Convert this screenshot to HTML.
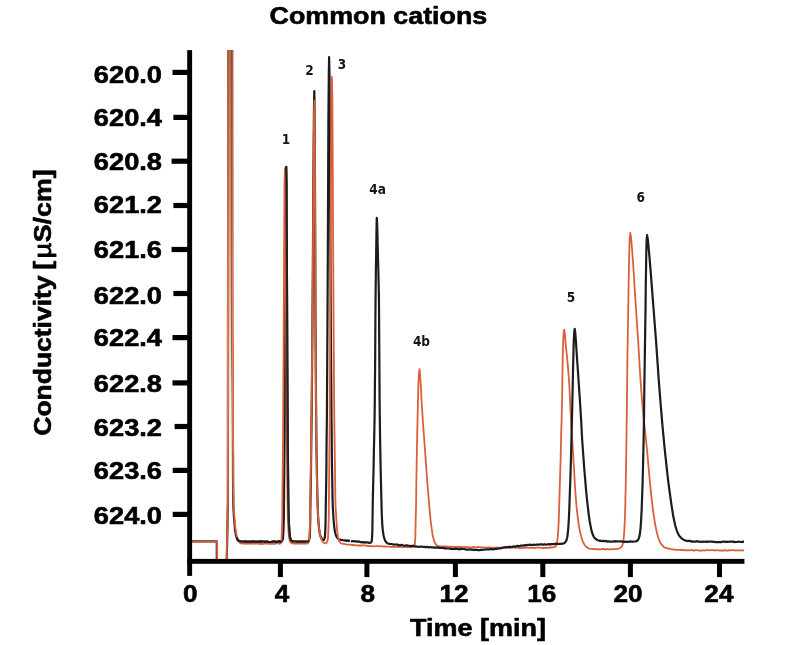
<!DOCTYPE html>
<html lang="en"><head><meta charset="utf-8"><title>Common cations</title>
<style>
html,body{margin:0;padding:0;background:#fff;}
body{width:790px;height:645px;overflow:hidden;}
svg{display:block;}
.ax{font-family:"Liberation Sans",Arial,sans-serif;font-weight:700;font-size:24px;fill:#000;stroke:#000;stroke-width:0.6px;stroke-linejoin:round;}
.pk{font-family:"DejaVu Sans Condensed","DejaVu Sans","Liberation Sans",sans-serif;font-weight:700;font-size:13.5px;fill:#161616;}
</style></head><body>
<svg width="790" height="645" viewBox="0 0 790 645">
<rect width="790" height="645" fill="#fff"/>
<defs><clipPath id="plot"><rect x="192" y="50" width="552.3" height="509.5"/></clipPath></defs>
<text class="ax" transform="translate(378.4,24.0) scale(1.119,1)" text-anchor="middle">Common cations</text>
<text class="ax" transform="translate(478.0,636.0) scale(1.124,1)" text-anchor="middle">Time [min]</text>
<text class="ax" transform="translate(51.3,435.7) rotate(-90) scale(1.103,1)" text-anchor="start">Conductivity</text>
<text class="ax" transform="translate(51.3,169.4) rotate(-90) scale(1.115,1)" text-anchor="end">[<tspan dx="2.2" style="font-weight:400;stroke-width:0.9px">µ</tspan><tspan dx="0.6">S/cm]</tspan></text>
<text class="ax" transform="translate(162.0,83.1) scale(1.135,1)" text-anchor="end">620.0</text>
<text class="ax" transform="translate(162.0,125.7) scale(1.135,1)" text-anchor="end">620.4</text>
<text class="ax" transform="translate(162.0,170.1) scale(1.135,1)" text-anchor="end">620.8</text>
<text class="ax" transform="translate(162.0,213.2) scale(1.135,1)" text-anchor="end">621.2</text>
<text class="ax" transform="translate(162.0,258.2) scale(1.135,1)" text-anchor="end">621.6</text>
<text class="ax" transform="translate(162.0,303.7) scale(1.135,1)" text-anchor="end">622.0</text>
<text class="ax" transform="translate(162.0,345.7) scale(1.135,1)" text-anchor="end">622.4</text>
<text class="ax" transform="translate(162.0,391.5) scale(1.135,1)" text-anchor="end">622.8</text>
<text class="ax" transform="translate(162.0,435.6) scale(1.135,1)" text-anchor="end">623.2</text>
<text class="ax" transform="translate(162.0,478.9) scale(1.135,1)" text-anchor="end">623.6</text>
<text class="ax" transform="translate(162.0,523.5) scale(1.135,1)" text-anchor="end">624.0</text>
<text class="ax" transform="translate(190.2,601.8) scale(1.09,1)" text-anchor="middle">0</text>
<text class="ax" transform="translate(282.1,601.8) scale(1.09,1)" text-anchor="middle">4</text>
<text class="ax" transform="translate(367.8,601.8) scale(1.09,1)" text-anchor="middle">8</text>
<text class="ax" transform="translate(454.1,601.8) scale(1.09,1)" text-anchor="middle">12</text>
<text class="ax" transform="translate(541.7,601.8) scale(1.09,1)" text-anchor="middle">16</text>
<text class="ax" transform="translate(628.0,601.8) scale(1.09,1)" text-anchor="middle">20</text>
<text class="ax" transform="translate(718.9,601.8) scale(1.09,1)" text-anchor="middle">24</text>
<g clip-path="url(#plot)" fill="none" stroke-linejoin="round" stroke-linecap="butt">
<g stroke="#1c1c20" stroke-width="2.2">
<path d="M192,541.3 L216.8,541.3 L216.8,562"/>
<path d="M226.7,562 L227.4,530 L227.9,500 L228.2,40"/>
<path d="M231.6,40.0 L231.6,83.3 L231.6,126.7 L231.7,170.0 L231.7,213.3 L231.8,256.7 L231.9,300.0 L232.0,320.0 L232.1,340.0 L232.3,360.0 L232.5,380.0 L232.7,400.0 L232.8,420.0 L232.9,433.3 L232.9,446.7 L233.0,460.0 L233.0,473.3 L233.1,486.7 L233.2,500.0 L233.3,504.2 L233.4,508.3 L233.7,512.5 L233.9,516.7 L234.3,520.8 L234.6,525.0 L234.8,526.7 L234.9,528.5 L235.1,530.3 L235.4,532.0 L235.7,533.7 L236.0,535.4 L236.2,536.4 L236.6,537.4 L237.0,538.4 L237.4,539.3 L237.9,540.1 L238.5,540.6 L238.9,540.8 L239.5,541.0 L240.1,541.2 L240.7,541.4 L241.4,541.5 L242.0,541.5 L243.1,541.5 L244.2,541.9 L245.3,541.3 L246.4,541.9 L247.5,541.5 L248.6,541.6 L249.7,541.9 L250.8,541.6 L252.0,541.7 L253.1,541.3 L254.2,541.9 L255.3,541.7 L256.4,541.6 L257.5,541.9 L258.7,541.5 L259.8,541.7 L260.9,541.4 L262.0,541.6 L263.1,541.5 L264.3,541.5 L265.4,541.9 L266.6,541.5 L267.8,541.7 L269.0,542.1 L270.2,542.0 L271.4,541.9 L272.6,541.7 L273.8,541.5 L274.9,541.4 L276.0,542.0 L277.5,541.7 L279.0,541.3 L280.1,541.7 L281.2,541.8 L281.6,541.4 L282.0,540.9 L282.4,540.3 L282.7,539.5 L282.9,538.7 L283.0,538.0 L283.4,532.0 L283.6,525.7 L283.8,519.3 L283.9,512.9 L283.9,506.4 L284.0,500.0 L284.6,436.8 L285.0,364.3 L285.4,291.8 L285.6,228.5 L285.9,183.8 L286.2,166.8 L286.5,183.8 L286.7,228.5 L287.0,291.8 L287.3,364.3 L287.7,436.8 L288.3,500.0 L288.4,505.0 L288.5,510.0 L288.6,515.0 L288.8,520.0 L289.0,525.0 L289.3,530.0 L289.4,531.8 L289.6,533.8 L289.8,535.8 L290.1,537.6 L290.5,539.2 L291.0,540.3 L291.3,540.6 L291.7,540.8 L292.2,541.1 L292.8,541.3 L293.4,541.4 L294.0,541.5 L295.3,541.5 L296.6,541.6 L298.0,541.6 L299.3,541.6 L300.7,541.6 L302.0,541.6 L303.1,541.6 L304.3,541.6 L305.5,541.6 L306.6,541.5 L307.5,541.5 L308.2,541.4 L308.6,541.1 L308.9,540.5 L309.2,539.7 L309.4,538.8 L309.6,537.8 L309.7,537.0 L310.0,531.0 L310.1,524.9 L310.3,518.7 L310.3,512.4 L310.4,506.2 L310.5,500.0 L310.8,483.3 L311.0,466.7 L311.2,450.0 L311.4,433.3 L311.6,416.7 L311.8,400.0 L312.3,341.3 L312.8,274.1 L313.2,206.9 L313.6,148.2 L314.0,106.7 L314.3,91.0 L314.6,106.7 L314.8,148.2 L315.1,206.9 L315.3,274.1 L315.6,341.3 L316.0,400.0 L316.2,416.7 L316.3,433.3 L316.5,450.0 L316.8,466.7 L317.1,483.3 L317.5,500.0 L317.6,504.2 L317.8,508.3 L317.9,512.5 L318.1,516.7 L318.4,520.9 L318.7,525.0 L318.9,527.0 L319.1,528.9 L319.4,530.9 L319.7,532.9 L320.1,534.7 L320.6,536.5 L320.9,537.2 L321.4,538.1 L321.9,538.9 L322.5,539.5 L323.0,540.0 L323.4,540.2 L323.7,540.0 L324.1,539.4 L324.4,538.6 L324.7,537.7 L324.9,536.8 L325.0,536.0 L325.3,530.2 L325.5,524.2 L325.6,518.2 L325.7,512.1 L325.8,506.0 L325.9,500.0 L326.2,483.3 L326.4,466.7 L326.5,450.0 L326.7,433.3 L326.9,416.7 L327.0,400.0 L327.4,334.9 L327.8,260.3 L328.1,185.6 L328.4,120.5 L328.8,74.5 L329.1,57.0 L329.5,74.5 L329.8,120.5 L330.1,185.6 L330.5,260.3 L330.9,334.9 L331.4,400.0 L331.5,416.7 L331.7,433.3 L331.8,450.0 L332.0,466.7 L332.3,483.3 L332.6,500.0 L332.7,503.3 L332.8,506.7 L333.0,510.0 L333.2,513.3 L333.4,516.7 L333.6,520.0 L333.8,522.4 L334.0,524.8 L334.3,527.2 L334.6,529.5 L335.0,531.8 L335.5,534.0 L335.8,535.0 L336.3,536.1 L336.9,537.2 L337.5,538.2 L338.3,538.9 L339.0,539.4 L339.8,539.6 L340.7,539.9 L341.8,540.0 L342.9,540.2 L344.0,540.3 L345.0,540.4 L345.8,540.6 L346.7,540.9 L347.5,540.3 L348.3,540.8 L349.2,540.8 L350.0,540.6"/>
</g>
<g stroke="#d9603a" stroke-width="1.8">
<path d="M192,541.6 L217.2,541.6 L217.2,562"/>
<path d="M226.6,562 L227.3,530 L227.8,500 L228.0,40"/>
<path d="M232.6,40.0 L232.6,83.3 L232.6,126.7 L232.7,170.0 L232.7,213.3 L232.7,256.7 L232.8,300.0 L232.8,320.0 L232.9,340.0 L232.9,360.0 L233.0,380.0 L233.0,400.0 L233.1,420.0 L233.1,433.3 L233.2,446.7 L233.3,460.0 L233.3,473.3 L233.4,486.7 L233.6,500.0 L233.7,504.2 L233.9,508.3 L234.1,512.5 L234.4,516.7 L234.7,520.9 L235.1,525.0 L235.3,526.8 L235.5,528.7 L235.8,530.5 L236.1,532.4 L236.4,534.2 L236.8,536.0 L237.1,537.2 L237.4,538.4 L237.8,539.6 L238.2,540.8 L238.7,541.7 L239.3,542.4 L239.7,542.7 L240.2,542.9 L240.7,543.1 L241.3,543.3 L241.9,543.4 L242.5,543.5 L244.1,543.4 L245.7,543.5 L246.7,543.8 L247.8,543.4 L248.9,543.7 L250.0,543.8 L251.1,543.5 L252.2,543.4 L253.3,543.5 L254.4,543.8 L255.5,543.7 L256.5,543.5 L257.6,543.7 L258.7,543.8 L259.8,543.7 L260.9,543.8 L262.0,544.0 L263.1,543.8 L264.2,543.6 L265.3,543.5 L266.5,543.6 L267.7,543.7 L268.8,543.9 L270.0,543.8 L271.2,543.6 L272.4,543.9 L273.5,543.6 L274.6,543.8 L275.7,543.4 L277.0,543.4 L278.4,543.4 L279.3,543.8 L280.2,543.6 L280.5,543.3 L280.8,542.7 L281.0,542.0 L281.3,541.1 L281.4,540.3 L281.5,539.5 L281.8,533.1 L282.0,526.5 L282.2,519.9 L282.3,513.3 L282.3,506.6 L282.4,500.0 L283.0,437.0 L283.5,364.8 L283.9,292.6 L284.2,229.6 L284.5,185.1 L284.9,168.2 L285.1,177.5 L285.4,201.9 L285.6,236.4 L285.8,275.9 L286.1,315.5 L286.3,350.0 L286.5,375.0 L286.6,400.0 L286.8,425.0 L287.0,450.0 L287.2,475.0 L287.5,500.0 L287.6,505.0 L287.7,510.0 L287.8,515.0 L288.0,520.0 L288.2,525.0 L288.4,530.0 L288.5,532.1 L288.7,534.2 L288.9,536.4 L289.3,538.5 L289.7,540.3 L290.2,541.8 L290.5,542.2 L290.8,542.5 L291.3,542.9 L291.9,543.2 L292.5,543.4 L293.0,543.5 L294.4,543.5 L295.9,543.6 L297.4,543.6 L298.9,543.6 L300.5,543.6 L302.0,543.6 L303.0,543.6 L304.1,543.6 L305.2,543.5 L306.2,543.5 L307.1,543.5 L307.7,543.4 L308.1,543.1 L308.5,542.4 L308.8,541.5 L309.0,540.5 L309.2,539.4 L309.3,538.5 L309.6,532.2 L309.9,525.8 L310.0,519.4 L310.1,512.9 L310.2,506.4 L310.3,500.0 L310.6,483.3 L310.9,466.7 L311.1,450.0 L311.3,433.3 L311.5,416.7 L311.7,400.0 L312.2,343.2 L312.8,278.1 L313.2,212.9 L313.7,156.1 L314.0,115.9 L314.4,100.7 L314.7,115.9 L314.9,156.1 L315.1,212.9 L315.4,278.1 L315.6,343.2 L316.0,400.0 L316.1,416.7 L316.3,433.3 L316.5,450.0 L316.7,466.7 L317.0,483.3 L317.4,500.0 L317.5,504.2 L317.7,508.3 L317.9,512.5 L318.1,516.7 L318.4,520.9 L318.7,525.0 L318.9,527.2 L319.2,529.4 L319.5,531.6 L319.9,533.8 L320.4,535.9 L321.0,538.0 L321.3,538.8 L321.6,539.7 L322.0,540.6 L322.5,541.4 L323.0,542.1 L323.6,542.6 L323.9,542.8 L324.2,543.0 L324.6,543.1 L325.0,543.3 L325.3,543.4 L325.6,543.4 L326.2,543.1 L326.7,542.4 L327.2,541.4 L327.6,540.2 L327.9,539.0 L328.0,538.0 L328.3,531.9 L328.5,525.6 L328.7,519.3 L328.8,512.8 L328.8,506.4 L328.9,500.0 L329.7,419.7 L330.2,327.6 L330.7,235.6 L331.0,155.3 L331.4,98.4 L331.9,76.9 L332.4,98.5 L332.7,155.3 L333.1,235.6 L333.6,327.7 L334.3,419.7 L335.4,500.0 L335.5,503.3 L335.6,506.7 L335.8,510.0 L336.0,513.3 L336.2,516.7 L336.4,520.0 L336.6,522.9 L336.8,525.7 L337.0,528.6 L337.2,531.5 L337.6,534.3 L338.0,537.0 L338.3,538.2 L338.6,539.4 L339.1,540.6 L339.6,541.7 L340.2,542.6 L340.9,543.2 L341.5,543.5 L342.3,543.7 L343.2,543.9 L344.1,544.0 L345.1,544.2 L346.0,544.3 L347.2,544.6 L348.3,544.6 L349.5,544.6 L350.6,544.8 L351.8,544.9 L353.0,545.2 L354.1,545.0 L355.3,545.3 L356.5,545.3 L357.7,545.5 L358.8,545.3 L360.0,545.5 L361.1,545.4 L362.2,545.5 L363.3,545.4 L364.4,545.4 L365.6,545.5 L366.7,545.9 L367.8,545.8 L368.9,546.2 L370.0,546.2 L371.1,546.0 L372.2,546.4 L373.3,546.2 L374.4,546.3 L375.6,546.2 L376.7,546.1 L377.8,546.1 L378.9,546.2 L380.0,546.5 L381.1,546.2 L382.2,546.2 L383.3,546.7 L384.4,546.3 L385.6,546.5 L386.7,546.6 L387.8,546.7 L388.9,546.6 L390.0,546.9 L391.1,546.8 L392.2,546.8 L393.3,546.8 L394.4,546.8 L395.6,547.1 L396.7,546.7 L397.8,547.0 L398.9,546.9 L400.0,546.6 L401.0,546.8 L402.1,547.2 L403.1,547.2 L404.2,546.7 L405.3,546.9 L406.3,546.8 L407.4,547.3 L408.4,546.9 L409.4,546.9 L410.4,547.5 L411.4,547.2 L412.3,547.1 L412.8,547.1 L413.3,546.9 L413.8,546.6 L414.2,546.2 L414.5,545.9 L414.7,545.5 L415.0,542.2 L415.3,538.2 L415.4,533.8 L415.5,529.1 L415.6,524.4 L415.7,520.0 L416.0,508.3 L416.2,496.7 L416.3,485.0 L416.5,473.3 L416.7,461.7 L416.9,450.0 L417.2,434.7 L417.6,417.1 L418.0,399.5 L418.4,384.2 L418.9,373.3 L419.5,369.2 L419.8,371.3 L420.2,376.8 L420.7,384.5 L421.2,393.4 L421.6,402.3 L422.1,410.0 L422.6,416.7 L423.0,423.3 L423.5,430.0 L424.0,436.7 L424.5,443.3 L425.0,450.0 L425.6,458.3 L426.2,466.7 L426.8,475.0 L427.4,483.3 L428.1,491.7 L428.8,500.0 L429.2,505.0 L429.7,510.0 L430.1,515.1 L430.6,520.1 L431.2,525.0 L431.9,530.0 L432.2,532.2 L432.6,534.6 L433.1,536.9 L433.6,539.1 L434.2,541.2 L435.0,543.0 L435.4,543.7 L436.0,544.4 L436.6,545.1 L437.3,545.8 L438.1,546.2 L438.8,546.4 L440.0,546.2 L441.2,546.5 L442.5,546.5 L443.8,546.7 L445.2,546.4 L446.6,546.5 L448.0,546.6 L449.4,546.8 L450.8,546.7 L452.2,546.9 L453.6,546.7 L455.0,547.1 L456.4,547.2 L457.9,546.7 L459.3,546.8 L460.8,547.0 L462.2,547.2 L463.7,546.8 L465.1,546.9 L466.6,547.1 L468.0,547.2 L469.4,547.4 L470.9,547.4 L472.3,547.4 L473.8,546.9 L475.2,547.5 L476.7,547.3 L478.1,547.0 L479.6,547.1 L481.0,547.4 L482.4,547.3 L483.8,547.3 L485.2,547.6 L486.6,547.6 L487.9,547.5 L489.3,547.6 L490.7,547.4 L492.1,547.8 L493.5,547.6 L494.9,547.8 L496.3,547.3 L497.7,547.8 L499.1,547.7 L500.4,547.8 L501.8,547.5 L503.2,547.7 L504.6,547.6 L506.0,547.5 L507.4,547.4 L508.9,548.0 L510.3,547.8 L511.8,547.6 L513.2,547.6 L514.7,547.7 L516.1,547.9 L517.6,547.5 L519.0,548.1 L520.4,548.0 L521.9,547.6 L523.3,547.9 L524.8,547.7 L526.2,547.9 L527.7,547.5 L529.1,547.8 L530.6,547.9 L532.0,547.9 L533.6,547.9 L535.2,548.0 L536.8,547.6 L538.4,547.6 L539.9,547.7 L541.5,547.8 L543.1,548.0 L544.7,547.8 L546.3,547.8 L547.9,548.0 L549.4,547.5 L551.0,547.5 L551.8,547.5 L552.8,547.4 L553.7,547.2 L554.5,547.0 L555.2,546.8 L555.6,546.5 L556.2,545.4 L556.8,543.8 L557.2,541.7 L557.5,539.4 L557.7,537.1 L557.9,535.0 L558.3,529.2 L558.6,523.4 L558.8,517.5 L559.0,511.7 L559.2,505.8 L559.4,500.0 L559.8,486.7 L560.2,473.3 L560.6,460.0 L560.9,446.7 L561.2,433.3 L561.6,420.0 L562.0,402.8 L562.3,383.2 L562.6,363.5 L563.0,346.3 L563.5,334.2 L564.2,329.6 L564.4,330.6 L564.8,333.4 L565.1,337.2 L565.5,341.7 L565.9,346.1 L566.3,350.0 L566.8,355.0 L567.3,360.0 L567.8,365.0 L568.2,370.0 L568.6,375.0 L569.0,380.0 L569.4,386.7 L569.7,393.3 L570.0,400.0 L570.3,406.7 L570.7,413.3 L571.0,420.0 L571.3,425.8 L571.7,431.7 L572.1,437.5 L572.5,443.3 L572.8,449.2 L573.2,455.0 L573.6,462.5 L574.1,470.0 L574.5,477.5 L574.9,485.0 L575.4,492.5 L576.0,500.0 L576.4,505.0 L576.9,510.1 L577.5,515.1 L578.1,520.1 L578.8,525.1 L579.7,530.0 L580.2,532.6 L580.9,535.3 L581.6,538.0 L582.5,540.6 L583.5,543.0 L584.7,545.0 L585.3,545.7 L586.0,546.5 L586.8,547.2 L587.8,547.9 L588.7,548.4 L589.6,548.6 L591.2,548.8 L592.0,548.8 L592.9,548.8 L593.8,549.1 L594.6,549.3 L595.5,548.9 L596.4,549.1 L597.3,549.3 L598.2,549.2 L599.1,549.4 L600.0,549.3 L601.0,549.4 L602.0,549.0 L603.0,549.0 L604.0,548.9 L605.0,549.4 L606.0,549.5 L607.0,548.9 L608.0,549.4 L609.0,549.3 L610.0,549.4 L611.0,549.1 L612.0,549.3 L612.8,549.2 L613.7,549.2 L614.5,549.1 L615.4,549.1 L616.2,549.1 L617.0,549.0 L617.9,548.8 L618.9,548.5 L619.9,548.1 L620.7,547.6 L621.5,547.1 L621.9,546.5 L622.5,545.1 L622.9,543.3 L623.3,541.3 L623.6,539.2 L623.8,537.0 L624.0,535.0 L624.4,529.2 L624.7,523.4 L624.9,517.5 L625.1,511.7 L625.3,505.8 L625.4,500.0 L626.0,471.7 L626.4,443.3 L626.8,415.0 L627.1,386.7 L627.4,358.3 L627.9,330.0 L628.2,311.6 L628.5,290.4 L628.9,269.3 L629.3,250.9 L629.7,237.8 L630.3,232.9 L631.1,237.8 L632.2,250.9 L633.5,269.3 L634.8,290.4 L636.2,311.6 L637.4,330.0 L638.2,341.7 L638.9,353.3 L639.6,365.0 L640.3,376.7 L641.1,388.3 L642.0,400.0 L642.7,408.3 L643.5,416.7 L644.4,425.0 L645.3,433.3 L646.2,441.7 L647.0,450.0 L647.8,458.3 L648.5,466.7 L649.3,475.0 L650.0,483.4 L650.9,491.7 L651.8,500.0 L652.4,505.0 L653.0,510.1 L653.7,515.1 L654.5,520.1 L655.3,525.1 L656.3,530.0 L656.8,532.2 L657.4,534.5 L658.0,536.8 L658.7,539.0 L659.5,541.1 L660.5,543.0 L661.1,544.0 L661.9,545.0 L662.9,546.0 L663.8,546.9 L664.9,547.5 L665.9,548.0 L666.9,548.1 L668.0,548.3 L669.1,548.9 L670.3,548.7 L671.5,549.3 L672.7,549.3 L673.9,549.5 L675.1,549.9 L676.4,549.6 L677.6,549.9 L678.8,549.9 L680.0,549.8 L681.1,550.0 L682.2,549.9 L683.3,550.3 L684.4,550.2 L685.5,550.0 L686.7,550.5 L687.8,550.1 L688.9,550.4 L690.0,550.4 L691.1,550.2 L692.2,550.0 L693.3,550.6 L694.4,550.6 L695.6,550.2 L696.7,550.2 L697.8,550.4 L698.9,550.5 L700.0,550.7 L701.1,550.7 L702.2,550.7 L703.3,550.2 L704.4,550.5 L705.6,550.4 L706.7,550.2 L707.8,550.1 L708.9,550.2 L710.0,550.3 L711.1,550.2 L712.2,550.2 L713.3,550.1 L714.4,550.5 L715.6,550.4 L716.7,550.2 L717.8,550.4 L718.9,550.4 L720.0,550.5 L721.3,550.7 L722.7,550.3 L724.0,550.5 L725.3,550.2 L726.7,550.7 L728.0,550.5 L729.3,550.2 L730.7,550.3 L732.0,550.2 L733.3,550.2 L734.7,550.3 L736.0,550.6 L737.3,550.4 L738.7,550.3 L740.0,550.4 L741.3,550.3 L742.7,550.5 L744.0,550.1"/>
</g>
<path d="M350.8,541.1 L351.7,541.3 L352.5,541.2 L353.3,541.0 L354.2,541.5 L355.0,541.3 L356.3,541.4 L357.6,541.8 L358.9,541.4 L360.2,542.1 L361.5,542.2 L362.8,542.4 L364.1,542.1 L365.4,542.7 L366.6,542.3 L367.8,542.3 L368.9,542.9 L370.0,543.0 L370.4,542.6 L370.8,542.4 L371.1,542.1 L371.5,541.7 L371.7,541.3 L371.8,541.0 L372.2,535.2 L372.4,528.7 L372.5,521.7 L372.6,514.4 L372.7,507.0 L372.8,500.0 L373.2,483.3 L373.6,466.7 L373.9,450.0 L374.3,433.3 L374.6,416.7 L374.8,400.0 L374.9,384.2 L375.1,368.3 L375.2,352.5 L375.3,336.7 L375.4,320.8 L375.5,305.0 L375.6,295.8 L375.7,286.7 L375.8,277.5 L375.9,268.3 L376.1,259.2 L376.2,250.0 L376.3,243.9 L376.4,236.9 L376.5,229.9 L376.6,223.8 L376.7,219.4 L376.8,217.8 L376.9,219.4 L377.1,223.8 L377.3,229.9 L377.5,236.9 L377.6,243.9 L377.8,250.0 L378.0,259.2 L378.3,268.3 L378.5,277.5 L378.7,286.7 L378.9,295.8 L379.0,305.0 L379.1,320.8 L379.2,336.7 L379.3,352.5 L379.4,368.3 L379.5,384.2 L379.6,400.0 L379.8,416.7 L380.0,433.3 L380.3,450.0 L380.6,466.7 L381.0,483.3 L381.4,500.0 L381.5,504.2 L381.6,508.3 L381.7,512.5 L381.9,516.7 L382.1,520.8 L382.3,525.0 L382.5,527.2 L382.7,529.4 L383.0,531.6 L383.3,533.8 L383.7,536.0 L384.2,538.0 L384.5,539.0 L384.9,540.0 L385.4,541.1 L386.0,542.0 L386.6,542.7 L387.3,543.2 L388.0,543.5 L388.9,543.7 L389.9,543.9 L391.0,544.0 L392.0,544.2 L393.0,544.3 L394.0,544.7 L395.0,544.5 L396.0,544.5 L397.0,544.4 L398.0,544.9 L399.0,545.1 L400.0,545.3 L401.0,544.9 L402.0,544.9 L403.0,545.3 L404.0,545.6 L405.0,545.8 L406.4,545.2 L407.8,545.6 L409.2,546.0 L410.6,545.8 L411.9,546.0 L413.3,545.7 L414.7,546.3 L416.1,546.6 L417.5,546.7 L418.9,546.8 L420.3,546.7 L421.7,546.5 L423.1,547.0 L424.4,546.7 L425.8,547.3 L427.2,546.8 L428.6,547.5 L430.0,547.0 L431.4,547.3 L432.8,547.3 L434.2,547.7 L435.6,547.4 L436.9,547.7 L438.3,547.5 L439.7,547.8 L441.1,548.0 L442.5,547.8 L443.9,548.3 L445.3,548.2 L446.7,548.5 L448.1,548.5 L449.4,548.5 L450.8,548.9 L452.2,548.8 L453.6,549.0 L455.0,548.7 L456.4,548.9 L457.9,548.7 L459.3,549.4 L460.8,548.9 L462.2,549.0 L463.7,549.0 L465.1,549.2 L466.6,549.6 L468.0,549.7 L469.5,549.3 L470.9,549.6 L472.3,549.7 L473.8,549.9 L475.2,549.8 L476.7,549.9 L478.1,550.1 L479.6,550.1 L481.0,549.8 L482.4,549.8 L483.8,549.7 L485.2,549.5 L486.6,549.4 L488.0,549.4 L489.3,549.3 L490.7,549.1 L492.1,549.2 L493.5,549.3 L494.9,549.0 L496.3,548.8 L497.7,548.6 L499.1,548.3 L500.4,548.4 L501.8,548.0 L503.2,547.7 L504.6,547.2 L506.0,547.4 L507.4,547.0 L508.9,546.8 L510.3,546.9 L511.8,547.0 L513.2,546.4 L514.7,546.6 L516.1,546.3 L517.5,545.8 L519.0,546.3 L520.4,545.7 L521.9,545.5 L523.3,545.7 L524.8,545.1 L526.2,545.4 L527.7,544.8 L529.1,544.9 L530.6,544.7 L532.0,545.1 L533.4,544.7 L534.8,545.0 L536.2,544.7 L537.5,544.7 L538.9,544.6 L540.3,544.4 L541.7,544.4 L543.1,544.8 L544.5,544.2 L545.9,544.7 L547.3,544.5 L548.7,544.2 L550.1,544.4 L551.4,544.1 L552.8,544.1 L554.2,544.1 L555.6,543.7 L557.0,544.0 L558.0,544.0 L559.0,543.9 L560.1,543.9 L561.1,543.8 L562.1,543.7 L563.0,543.6 L563.5,543.5 L563.9,543.3 L564.4,543.0 L564.8,542.7 L565.2,542.3 L565.5,542.0 L566.0,541.1 L566.5,540.0 L566.9,538.8 L567.2,537.5 L567.4,536.2 L567.6,535.0 L568.2,529.3 L568.6,523.5 L568.9,517.6 L569.2,511.7 L569.4,505.9 L569.6,500.0 L569.9,491.7 L570.2,483.3 L570.5,475.0 L570.7,466.7 L571.0,458.3 L571.2,450.0 L571.4,441.7 L571.6,433.3 L571.8,425.0 L572.0,416.7 L572.2,408.3 L572.4,400.0 L572.7,386.5 L573.0,371.0 L573.4,355.5 L573.7,342.0 L574.2,332.4 L574.7,328.8 L575.0,330.6 L575.5,335.5 L576.0,342.4 L576.5,350.3 L577.0,358.1 L577.5,365.0 L577.9,370.8 L578.3,376.7 L578.7,382.5 L579.1,388.3 L579.5,394.2 L579.9,400.0 L580.4,408.3 L580.9,416.7 L581.4,425.0 L581.8,433.3 L582.3,441.7 L582.9,450.0 L583.5,458.3 L584.1,466.7 L584.8,475.0 L585.5,483.4 L586.2,491.7 L587.1,500.0 L587.6,505.0 L588.2,510.1 L588.8,515.2 L589.5,520.2 L590.4,525.1 L591.4,530.0 L591.7,531.4 L592.2,532.8 L592.6,534.2 L593.2,535.6 L593.8,536.8 L594.5,537.8 L595.0,538.4 L595.7,538.9 L596.5,539.5 L597.3,539.9 L598.2,540.3 L599.0,540.5 L599.9,541.0 L600.7,540.6 L601.6,541.1 L602.5,540.9 L603.5,540.8 L604.4,541.4 L605.3,540.8 L606.3,541.1 L607.2,541.7 L608.1,541.2 L609.1,541.6 L610.0,541.5 L611.1,541.7 L612.2,541.5 L613.3,541.4 L614.4,541.7 L615.6,541.1 L616.7,541.5 L617.8,541.4 L618.9,541.5 L620.0,541.3 L621.1,541.3 L622.2,541.6 L623.3,541.5 L624.4,541.8 L625.6,541.7 L626.7,541.9 L627.8,541.8 L628.9,541.7 L630.0,541.4 L631.0,541.6 L632.1,541.6 L633.1,541.6 L634.1,541.5 L635.1,541.5 L636.0,541.4 L636.4,541.3 L636.8,541.1 L637.3,540.7 L637.6,540.4 L638.0,540.0 L638.2,539.6 L638.6,538.7 L639.0,537.6 L639.4,536.5 L639.6,535.3 L639.8,534.1 L640.0,533.0 L640.6,527.6 L641.0,522.1 L641.3,516.6 L641.6,511.1 L641.8,505.5 L642.0,500.0 L642.3,491.7 L642.6,483.3 L642.8,475.0 L643.0,466.7 L643.2,458.3 L643.4,450.0 L643.8,430.0 L644.1,410.0 L644.3,390.0 L644.6,370.0 L644.9,350.0 L645.2,330.0 L645.5,312.0 L645.7,291.3 L646.0,270.7 L646.3,252.7 L646.6,239.9 L647.1,235.1 L647.9,239.9 L649.1,252.7 L650.6,270.7 L652.2,291.3 L653.8,312.0 L655.2,330.0 L656.1,341.7 L656.9,353.3 L657.7,365.0 L658.5,376.7 L659.4,388.3 L660.3,400.0 L661.0,408.3 L661.7,416.7 L662.4,425.0 L663.2,433.3 L664.0,441.7 L664.8,450.0 L665.7,458.3 L666.6,466.7 L667.5,475.0 L668.5,483.4 L669.6,491.7 L670.8,500.0 L671.5,505.1 L672.3,510.2 L673.1,515.3 L674.1,520.3 L675.2,525.2 L676.6,530.0 L677.1,531.4 L677.7,532.8 L678.4,534.3 L679.2,535.6 L680.1,536.8 L681.0,537.8 L681.8,538.5 L682.7,539.1 L683.8,539.7 L684.8,540.2 L685.9,540.6 L687.0,540.8 L688.0,541.1 L689.1,540.9 L690.1,540.8 L691.2,541.6 L692.3,541.4 L693.4,541.6 L694.5,541.5 L695.6,541.6 L696.7,541.2 L697.8,541.4 L698.9,541.8 L700.0,541.8 L701.1,541.5 L702.2,542.1 L703.3,541.5 L704.4,541.8 L705.6,541.5 L706.7,542.0 L707.8,541.6 L708.9,541.6 L710.0,541.5 L711.1,541.6 L712.2,541.6 L713.3,541.9 L714.4,541.8 L715.6,542.2 L716.7,542.2 L717.8,542.1 L718.9,542.0 L720.0,542.2 L721.3,542.2 L722.7,541.5 L724.0,541.6 L725.3,541.8 L726.7,541.6 L728.0,542.0 L729.3,541.7 L730.7,541.7 L732.0,541.7 L733.3,541.6 L734.7,542.1 L736.0,542.0 L737.3,542.0 L738.7,541.5 L740.0,541.8 L741.3,542.0 L742.7,541.6 L744.0,541.8" stroke="#1c1c20" stroke-width="2.2"/>
<path d="M236.6,537.4 L237.0,538.4 L237.4,539.3 L237.9,540.1 L238.5,540.6 L238.9,540.8 L239.5,541.0 L240.1,541.2 L240.7,541.4 L241.4,541.5 L242.0,541.5 L243.1,541.5 L244.2,541.9 L245.3,541.3 L246.4,541.9 L247.5,541.5 L248.6,541.6 L249.7,541.9 L250.8,541.6 L252.0,541.7 L253.1,541.3 L254.2,541.9 L255.3,541.7 L256.4,541.6 L257.5,541.9 L258.7,541.5 L259.8,541.7 L260.9,541.4 L262.0,541.6 L263.1,541.5 L264.3,541.5 L265.4,541.9 L266.6,541.5 L267.8,541.7 L269.0,542.1 L270.2,542.0 L271.4,541.9 L272.6,541.7 L273.8,541.5 L274.9,541.4 L276.0,542.0 L277.5,541.7 L279.0,541.3 L280.1,541.7 L281.2,541.8 L281.6,541.4" stroke="#1c1c20" stroke-width="2.2"/>
<path d="M286.2,166.8 L286.5,183.8 L286.7,228.5 L287.0,291.8 L287.3,364.3 L287.7,436.8 L288.3,500.0 L288.4,505.0 L288.5,510.0 L288.6,515.0 L288.8,520.0 L289.0,525.0 L289.3,530.0 L289.4,531.8 L289.6,533.8 L289.8,535.8 L290.1,537.6 L290.5,539.2 L291.0,540.3 L291.3,540.6 L291.7,540.8 L292.2,541.1 L292.8,541.3 L293.4,541.4 L294.0,541.5 L295.3,541.5 L296.6,541.6 L298.0,541.6 L299.3,541.6 L300.7,541.6 L302.0,541.6 L303.1,541.6 L304.3,541.6 L305.5,541.6 L306.6,541.5 L307.5,541.5 L308.2,541.4 L308.6,541.1 L308.9,540.5" stroke="#1c1c20" stroke-width="2.2" stroke-opacity="0.88"/>
<defs><linearGradient id="gl" gradientUnits="userSpaceOnUse" x1="0" y1="50" x2="0" y2="520"><stop offset="0" stop-color="#a25a3c" stop-opacity="0.72"/><stop offset="0.3" stop-color="#c8774f" stop-opacity="0.62"/><stop offset="0.6" stop-color="#ecA882" stop-opacity="0.5"/><stop offset="0.8" stop-color="#f6cfb6" stop-opacity="0.3"/><stop offset="1" stop-color="#fbe6d8" stop-opacity="0"/></linearGradient></defs>
<polygon points="227.4,50 233.0,50 233.4,520 227.2,520" fill="url(#gl)" stroke="none"/>
</g>
<g fill="#000">
<rect x="187.2" y="50.1" width="4.9" height="525.8"/>
<rect x="187.2" y="558.9" width="557.2" height="4.9"/>
<rect x="172.5" y="69.8" width="16.0" height="5.2"/>
<rect x="173.4" y="114.8" width="15.1" height="5.2"/>
<rect x="171.6" y="158.6" width="16.9" height="5.2"/>
<rect x="173.4" y="202.9" width="15.1" height="5.2"/>
<rect x="171.6" y="246.9" width="16.9" height="5.2"/>
<rect x="173.4" y="290.9" width="15.1" height="5.2"/>
<rect x="172.5" y="335.0" width="16.0" height="5.2"/>
<rect x="172.5" y="380.3" width="16.0" height="5.2"/>
<rect x="174.6" y="423.9" width="13.9" height="5.2"/>
<rect x="172.7" y="467.8" width="15.8" height="5.2"/>
<rect x="172.7" y="511.8" width="15.8" height="5.2"/>
<rect x="277.9" y="560" width="5" height="17.1"/>
<rect x="364.4" y="560" width="5" height="17.1"/>
<rect x="452.9" y="560" width="5" height="17.1"/>
<rect x="540.3" y="560" width="5" height="17.1"/>
<rect x="627.9" y="560" width="5" height="17.1"/>
<rect x="717.0" y="560" width="5" height="17.1"/>
</g>
<text class="pk" x="286.0" y="143.6" text-anchor="middle">1</text>
<text class="pk" x="309.6" y="74.6" text-anchor="middle">2</text>
<text class="pk" x="342.1" y="68.5" text-anchor="middle">3</text>
<text class="pk" x="377.7" y="194.3" text-anchor="middle">4a</text>
<text class="pk" x="421.5" y="345.5" text-anchor="middle">4b</text>
<text class="pk" x="570.9" y="302.2" text-anchor="middle">5</text>
<text class="pk" x="640.7" y="202.2" text-anchor="middle">6</text>
</svg>
</body></html>
